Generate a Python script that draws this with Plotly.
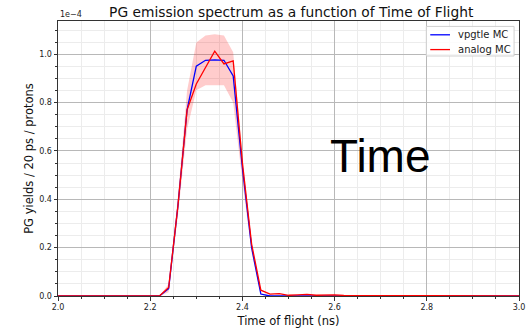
import plotly.graph_objects as go

# Time of flight bins (ns)
tof = [2.00, 2.02, 2.04, 2.06, 2.08, 2.10, 2.12, 2.14, 2.16, 2.18,
       2.20, 2.22, 2.24, 2.26, 2.28, 2.30, 2.32, 2.34, 2.36, 2.38,
       2.40, 2.42, 2.44, 2.46, 2.48, 2.50, 2.52, 2.54, 2.56, 2.58,
       2.60, 2.62, 2.64, 2.66, 2.68, 2.70, 2.72, 2.74, 2.76, 2.78,
       2.80, 2.82, 2.84, 2.86, 2.88, 2.90, 2.92, 2.94, 2.96, 2.98, 3.00]

# PG yields / 20 ps / proton, in units of 1e-4
vpgtle = [0, 0, 0, 0, 0, 0, 0, 0, 0, 0,
          0, 0, 0.030, 0.370, 0.770, 0.951, 0.975, 0.977, 0.975, 0.910,
          0.530, 0.200, 0.008, 0, 0, 0, 0, 0, 0, 0,
          0, 0, 0, 0, 0, 0, 0, 0, 0, 0,
          0, 0, 0, 0, 0, 0, 0, 0, 0, 0, 0]

analog = [0, 0, 0, 0, 0, 0, 0, 0, 0, 0,
          0, 0, 0.035, 0.370, 0.770, 0.877, 0.945, 1.013, 0.960, 0.973,
          0.550, 0.215, 0.024, 0.008, 0.010, 0.003, 0.005, 0.007, 0.003, 0.005,
          0.005, 0.002, 0.002, 0, 0, 0, 0, 0, 0, 0,
          0, 0, 0.003, 0, 0, 0, 0, 0, 0, 0, 0]

band_low = [0, 0, 0, 0, 0, 0, 0, 0, 0, 0,
            0, 0, 0.015, 0.330, 0.690, 0.851, 0.872, 0.873, 0.872, 0.800,
            0.475, 0.180, 0.004, 0, 0, 0, 0, 0, 0, 0,
            0, 0, 0, 0, 0, 0, 0, 0, 0, 0,
            0, 0, 0, 0, 0, 0, 0, 0, 0, 0, 0]

band_high = [0, 0, 0, 0, 0, 0, 0, 0, 0, 0,
             0, 0, 0.050, 0.410, 0.850, 1.049, 1.078, 1.083, 1.078, 1.008,
             0.585, 0.220, 0.012, 0, 0, 0, 0, 0, 0, 0,
             0, 0, 0, 0, 0, 0, 0, 0, 0, 0,
             0, 0, 0, 0, 0, 0, 0, 0, 0, 0, 0]

x_ticks = [2.0, 2.2, 2.4, 2.6, 2.8, 3.0]
x_ticklabels = ["2.0", "2.2", "2.4", "2.6", "2.8", "3.0"]
y_ticks = [0.0, 0.2, 0.4, 0.6, 0.8, 1.0]
y_ticklabels = ["0.0", "0.2", "0.4", "0.6", "0.8", "1.0"]

series_names = ["vpgtle MC", "analog MC"]
series_colors = ["#0000ff", "#ff0000"]

FONT = "DejaVu Sans"

# plot area geometry in pixels
L, R, T, B = 57.5, 525.0, 21.0, 300.0
W, H = 530, 330


def px(xp):
    return (xp - L) / (R - L)


def py(yp):
    return (B - yp) / (B - T)


fig = go.Figure()
fig.add_trace(go.Scatter(x=tof, y=band_low, mode="lines", line=dict(width=0),
                         showlegend=False, hoverinfo="skip"))
fig.add_trace(go.Scatter(x=tof, y=band_high, mode="lines", line=dict(width=0),
                         fill="tonexty", fillcolor="rgba(255,0,0,0.2)",
                         showlegend=False, hoverinfo="skip"))
fig.add_trace(go.Scatter(x=tof, y=vpgtle, mode="lines", name=series_names[0],
                         line=dict(color=series_colors[0], width=1.3), showlegend=False))
fig.add_trace(go.Scatter(x=tof, y=analog, mode="lines", name=series_names[1],
                         line=dict(color=series_colors[1], width=1.3), showlegend=False))

axis_common = dict(
    showline=True, linecolor="#333333", linewidth=1, mirror=True,
    ticks="outside", ticklen=3.5, tickwidth=0.8, tickcolor="#333333",
    showgrid=True, gridcolor="#b8b8b8", gridwidth=0.8,
    zeroline=False,
    tickfont=dict(family=FONT, size=8, color="#222222"),
    ticklabeloverflow="allow",
)

fig.update_xaxes(range=[2.0, 3.0], tickvals=x_ticks, ticktext=x_ticklabels,
                 minor=dict(dtick=0.05, tick0=2.0, ticks="outside", ticklen=2,
                            tickcolor="#333333", showgrid=True,
                            gridcolor="#ececec", gridwidth=0.6),
                 title=dict(text="Time of flight (ns)", standoff=5,
                            font=dict(family=FONT, size=11.5, color="#111111")),
                 **axis_common)
fig.update_yaxes(range=[0.0, 1.1375], tickvals=y_ticks, ticktext=y_ticklabels,
                 minor=dict(dtick=0.05, tick0=0.0, ticks="outside", ticklen=2,
                            tickcolor="#333333", showgrid=True,
                            gridcolor="#ececec", gridwidth=0.6),
                 title=dict(text="PG yields / 20 ps / protons", standoff=3,
                            font=dict(family=FONT, size=11.5, color="#111111")),
                 **axis_common)

# custom legend (matplotlib-like compact box)
shapes = [
    dict(type="rect", xref="paper", yref="paper",
         x0=px(431), x1=px(520), y0=py(56.5), y1=py(26.5),
         line=dict(color="#d0d0d0", width=1), fillcolor="rgba(255,255,255,0.85)",
         layer="above"),
]
annotations = []
row_y = [35.0, 50.0]
for name, color, yy in zip(series_names, series_colors, row_y):
    shapes.append(dict(type="line", xref="paper", yref="paper",
                       x0=px(435), x1=px(455), y0=py(yy), y1=py(yy),
                       line=dict(color=color, width=1.3), layer="above"))
    annotations.append(dict(text=name, xref="paper", yref="paper",
                            x=px(461), y=py(yy), xanchor="left", yanchor="middle",
                            showarrow=False,
                            font=dict(family=FONT, size=10, color="#222222")))

annotations += [
    dict(text="1e\u22124", xref="paper", yref="paper", x=0, y=1,
         xanchor="left", yanchor="bottom", showarrow=False,
         font=dict(family=FONT, size=8, color="#222222")),
    dict(text="Time", xref="paper", yref="paper",
         x=px(385), y=py(157.5),
         xanchor="center", yanchor="middle", showarrow=False,
         font=dict(family="Liberation Sans", size=46, color="black")),
]

fig.update_layout(
    width=W, height=H,
    margin=dict(l=L, r=W - R, t=T, b=H - B),
    paper_bgcolor="white", plot_bgcolor="white",
    title=dict(text="PG emission spectrum as a function of Time of Flight",
               x=(L + R) / 2 / W, xanchor="center", y=1 - 12 / H, yanchor="middle",
               font=dict(family=FONT, size=13.8, color="#111111")),
    showlegend=False,
    shapes=shapes,
    annotations=annotations,
)

fig.write_html("out.html")
